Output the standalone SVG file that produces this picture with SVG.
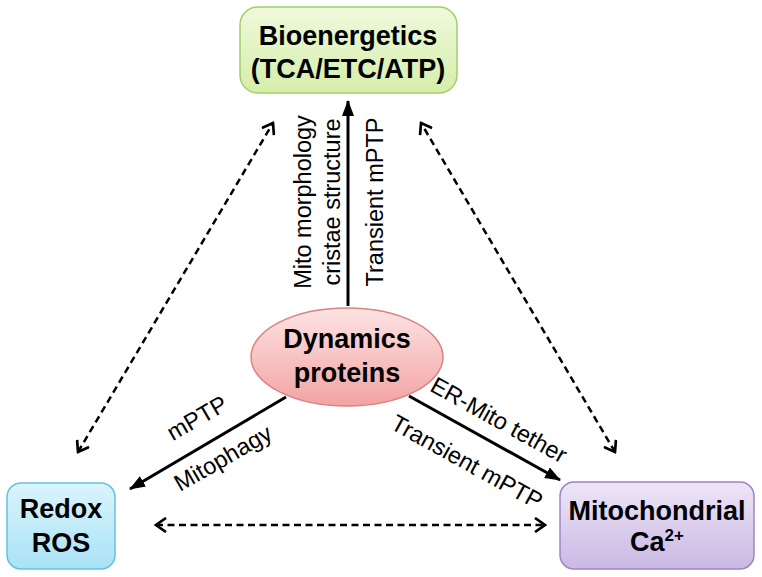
<svg xmlns="http://www.w3.org/2000/svg" width="762" height="577" viewBox="0 0 762 577">
<style>
.node{font-family:"Liberation Sans",Arial,sans-serif;font-weight:bold;font-size:27px;fill:#000;text-anchor:middle}
.lbl{font-family:"Liberation Sans",Arial,sans-serif;font-size:23.5px;fill:#000;text-anchor:middle}
.solid{stroke:#000;stroke-width:3;fill:none}
.dash{stroke:#000;stroke-width:2.5;fill:none;stroke-dasharray:7 4.5}
</style>
<defs>
<linearGradient id="gGreen" x1="0" y1="0" x2="0" y2="1"><stop offset="0" stop-color="#eff9dc"/><stop offset="1" stop-color="#d5eeaa"/></linearGradient>
<linearGradient id="gBlue" x1="0" y1="0" x2="0" y2="1"><stop offset="0" stop-color="#daf4fc"/><stop offset="1" stop-color="#a9e2f5"/></linearGradient>
<linearGradient id="gPurple" x1="0" y1="0" x2="0" y2="1"><stop offset="0" stop-color="#eee6f7"/><stop offset="1" stop-color="#cab8e3"/></linearGradient>
<linearGradient id="gPink" x1="0" y1="0" x2="0" y2="1"><stop offset="0" stop-color="#fde3e3"/><stop offset="1" stop-color="#f3a3a3"/></linearGradient>
<marker id="tri" markerWidth="16" markerHeight="12" refX="15" refY="6" orient="auto" markerUnits="userSpaceOnUse"><path d="M0,0 L16,6 L0,12 Z" fill="#000"/></marker>
<marker id="chev" markerWidth="14" markerHeight="16" refX="12" refY="8" orient="auto-start-reverse" markerUnits="userSpaceOnUse"><path d="M2,1 L12,8 L2,15" fill="none" stroke="#000" stroke-width="2.7"/></marker>
</defs>

<g id="connectors">
<line class="solid" x1="348" y1="306" x2="348" y2="101" marker-end="url(#tri)"/>
<line class="solid" x1="286" y1="397" x2="130" y2="489" marker-end="url(#tri)"/>
<line class="solid" x1="409" y1="396" x2="560" y2="480" marker-end="url(#tri)"/>
<line class="dash" x1="78" y1="452" x2="273" y2="123" marker-start="url(#chev)" marker-end="url(#chev)"/>
<line class="dash" x1="615" y1="452" x2="421" y2="123" marker-start="url(#chev)" marker-end="url(#chev)"/>
<line class="dash" x1="156" y1="525" x2="545" y2="525" marker-start="url(#chev)" marker-end="url(#chev)"/>
<text class="lbl" transform="translate(311,202) rotate(-90)">Mito morphology</text>
<text class="lbl" transform="translate(340,202) rotate(-90)">cristae structure</text>
<text class="lbl" transform="translate(383,202) rotate(-90)">Transient mPTP</text>
<text class="lbl" transform="translate(201,425) rotate(-30)">mPTP</text>
<text class="lbl" transform="translate(227,465) rotate(-30)">Mitophagy</text>
<text class="lbl" transform="translate(495,427) rotate(29)">ER-Mito tether</text>
<text class="lbl" transform="translate(463,469) rotate(29)">Transient mPTP</text>
</g>

<g id="bioenergetics">
<rect x="240" y="7" width="217" height="86" rx="18" fill="url(#gGreen)" stroke="#a3cd68" stroke-width="1.5"/>
<text class="node" x="348" y="45">Bioenergetics</text>
<text class="node" x="348" y="78">(TCA/ETC/ATP)</text>
</g>

<g id="dynamics">
<ellipse cx="347" cy="357" rx="96" ry="49" fill="url(#gPink)" stroke="#d98383" stroke-width="1.5"/>
<text class="node" x="347" y="348">Dynamics</text>
<text class="node" x="347" y="382">proteins</text>
</g>

<g id="redox">
<rect x="7" y="483" width="108" height="86" rx="14" fill="url(#gBlue)" stroke="#62c2e2" stroke-width="1.5"/>
<text class="node" x="61" y="518">Redox</text>
<text class="node" x="61" y="552">ROS</text>
</g>

<g id="calcium">
<rect x="560" y="482" width="194" height="87" rx="14" fill="url(#gPurple)" stroke="#9a86c4" stroke-width="1.5"/>
<text class="node" x="657" y="520">Mitochondrial</text>
<text class="node" x="657" y="551">Ca<tspan font-size="17" dy="-10">2+</tspan></text>
</g>
</svg>
